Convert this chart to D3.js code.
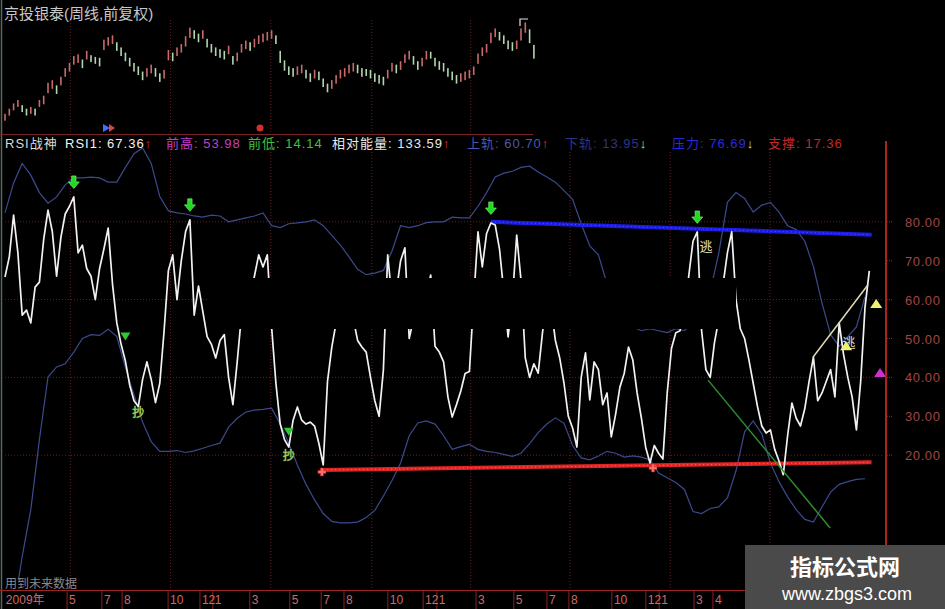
<!DOCTYPE html>
<html><head><meta charset="utf-8">
<script src="https://cdn.jsdelivr.net/npm/d3@7"></script>
<style>
html,body{margin:0;padding:0;background:#000;}
svg{display:block;}
text{font-family:"Liberation Sans","Noto Sans CJK SC",sans-serif;}
</style></head><body>
<svg id="c" width="945" height="609"></svg>
<script>
// ---------- DATA ----------
const title = "京投银泰(周线,前复权)";
const candleOpen = [4.20,4.50,4.80,5.00,5.10,4.90,4.60,4.90,5.00,5.15,5.80,6.05,6.25,6.25,6.75,7.05,7.45,7.55,7.75,7.75,8.00,7.90,7.85,8.30,8.55,8.65,8.75,8.45,8.15,7.85,7.55,7.35,7.05,6.75,6.95,7.25,6.95,6.65,7.70,8.15,7.95,8.15,8.50,9.00,9.45,9.25,8.95,8.95,8.65,8.45,8.35,8.25,8.05,7.95,7.65,8.15,8.35,8.75,8.45,8.65,8.75,8.85,8.95,9.15,8.25,7.70,7.35,7.25,6.85,6.95,7.15,6.95,6.65,7.05,6.65,6.35,6.05,6.35,6.65,6.75,6.95,7.05,7.45,7.25,7.20,7.15,6.95,6.85,6.75,6.65,7.05,7.45,7.15,7.55,7.75,7.95,7.65,7.35,7.75,8.20,7.85,7.65,7.55,7.25,7.05,6.85,6.45,6.55,6.65,6.85,7.50,7.95,8.15,8.70,9.05,9.35,9.15,8.85,8.75,8.35,8.85,9.30,9.50,8.60];
const candleClose = [4.60,4.90,5.20,5.40,4.70,4.50,5.00,4.50,5.40,5.65,6.40,6.55,5.75,6.75,7.25,7.55,7.95,8.05,7.25,8.25,7.60,7.50,7.35,8.90,9.05,9.15,8.25,7.95,7.65,7.35,7.05,6.85,6.55,7.25,7.45,6.75,6.45,7.15,8.30,7.65,8.45,8.65,9.10,9.60,8.95,8.75,9.45,8.45,8.15,7.95,7.85,7.75,8.55,7.45,8.15,8.65,8.85,8.25,8.95,9.15,9.25,9.35,9.45,8.65,7.55,7.10,6.85,6.75,7.35,7.45,6.65,6.45,7.15,6.55,6.15,5.85,6.55,6.85,7.15,7.25,7.45,7.55,6.95,6.75,6.80,6.65,6.45,6.35,6.25,7.15,7.55,6.95,7.65,8.05,8.25,7.45,7.15,7.85,8.25,7.80,7.35,7.15,7.05,6.75,6.55,6.35,6.95,7.05,7.15,7.35,8.10,8.45,8.65,9.30,9.55,8.85,8.65,8.35,8.25,8.85,9.55,9.90,8.70,7.80];

const rsi1 = [65.8,71,81.7,72,56,57.3,54,63.2,64.5,75.5,83,77.5,66,76,82,84,86.4,72,74,68,66,60,68,73,78.4,64,54,48.5,44.2,38,34,32.5,39.5,44,39.5,33.5,38.5,52,67.5,71.5,60,70,77.5,80.5,56,63.5,57,50.5,48.5,45,49.5,51,40,33,44,56,62,60,66,71.5,68.4,71.5,53,38.5,28,24,22.1,29,32.4,29,28,28.5,27.5,23,17.5,39,47.8,54,60,64,60,55,49.5,47.8,46.5,40,34,30,42,71.5,60,62,70,73.3,50,55,60,58,62,66.3,48,46.5,44,35,29.8,33,36.5,41,41.5,60,77.4,68.4,77,79.7,79.2,73,62,50.4,60,76.6,65,45,40,43.5,41.1,51.5,60,58,49.5,45,38.5,30,27,22.1,40,46.3,34.2,44,42,33,36,24.7,30.5,37.5,41,47.8,44.5,36,29.5,22,18,22.5,20.5,19,36,47.5,51.5,52,58,66,75,77.4,52,42,40,49,55,64,72,77.4,60,52.5,50,44.5,38.5,32.5,27.5,25.7,26.5,21.5,18.5,15,25,33.4,29.5,27.5,32,39,45.2,34,36,39,42,35,54,46,40,35,26.5,39,58,67.36];
// bands sampled every 2 weeks
const upperBand = [82.3,90,95,92,87.5,84.8,86.4,89.5,91.3,91.3,91.5,91.3,90.2,90.2,94,97.5,99,95,86.5,82.8,82.3,82,81.5,81.2,81.7,81.5,80,80.5,81,81.5,82.3,79,78.5,79.5,79.7,80,80.5,79,76.5,74,71,67.8,66.4,66.8,67.5,72.5,79,78.5,79,79.8,80,80,81.2,81,81,84,87.5,91.5,92.5,93,94,94.3,92.8,91.5,90.2,88,85.8,79.5,73.8,71.5,64,60,56,53,52,52.5,52,51.5,52.5,52,54,57,62,72,85,87.5,86,82.5,84.3,85,82.5,79,78,75,68.5,59.1,51,48,50.5,53,60.7];
const lowerBand = [null,-20,-6,6,24,40.1,42.7,43.5,46.5,50,51,50.8,52.4,50.5,42.5,35.5,28.5,23.5,21,21,21.2,20.7,21.1,21.8,22.5,23.1,27.2,29.5,31.1,31.6,31.8,32.1,28,23,17.5,12.5,8.5,5,3,2.6,2.6,2.8,4,5.8,9.5,13.5,18,25,28.3,28.8,28,25,21.5,22.2,22.8,21.5,21,20.7,20.2,19.7,20.5,23,25.8,28,29.6,28.2,22.5,19.3,18.8,19.8,21,20.5,19.5,19.8,19.5,18.8,15.4,14.2,13,11.2,5.5,5,6.3,6.7,9,16,26,28.8,25.5,18,13.2,9.3,6,3.5,2.8,6.7,10.5,12.5,13.2,13.8,13.95];

// trend lines: [week, value] endpoints
const resistLine = [[113, 80.0], [201.5, 76.69]];
const supportLine = [[74, 16.2], [201.5, 18.2]];
const fallLine = [[163.5, 39.3], [191.9, 1.3]];
const escapeLine = [[187.9, 45.2], [200.7, 63.8]];

// signals
const topArrows = [[16, 86.4], [43, 80.5], [113, 79.7], [161, 77.4]];
const buyTriangles = [[28, 50.5], [66, 26]];
const buyLabels = [[31, 31], [66, 20]];
const escapeLabels = [[163, 73.8], [196.3, 49.1]];
const lowMarks = [[73.7, 15.7], [150.7, 16.7]];
const yellowTriangles = [[202.6, 58.9], [195.6, 48]];
const magentaTriangles = [[203.5, 41.1]];

const gridWeeks = [15.2, 38.5, 61.8, 85.3, 108.3, 131.4, 154.7, 177.9];
const gridValues = [80, 60, 40, 20];
const axisValues = [80, 70, 60, 50, 40, 30, 20];
const monthWeeks = [0.2, 14.9, 23, 27.7, 38.4, 45.8, 48.8, 57.4, 66.7, 74, 79.3, 89.5, 97.7, 100.9, 110, 118.8, 126.5, 131.6, 141.6, 149.5, 152.6, 160.7, 165.1];
const monthLabels = ["2009年","5","7","8","10","12","1","3","5","7","8","10","12","1","3","5","7","8","10","12","1","3","4"];

const headerLabels = ["RSI战神", "RSI1", "前高", "前低", "相对能量", "上轨", "下轨", "压力", "支撑"];
const headerValues = [null, 67.36, 53.98, 14.14, 133.59, 60.70, 13.95, 76.69, 17.36];
const headerArrows = ["", "↑", "", "", "↑", "↑", "↓", "↓", ""];

// ---------- LAYOUT / STYLE ----------
const headerX = [5, 65, 166, 248, 332, 467, 565, 672, 768];
const headerColors = ["#d8d8d8","#f2f2f2","#c040c8","#40c040","#e8e8e8","#4a58b0","#2c3488","#2a2ae0","#c02828"];
const arrowColors = {"↑":"#e03030","↓":"#c8e070"};

const svg = d3.select("#c");
svg.append("rect").attr("width",945).attr("height",609).attr("fill","#000");

const x = d3.scaleLinear().domain([0, 201]).range([5, 869.3]);
const yR = d3.scaleLinear().domain([0, 100]).range([533, 144]);
const yP = d3.scaleLinear().domain([3, 10]).range([141.4, 20.7]);

const defs = svg.append("defs");
defs.append("clipPath").attr("id","rclip").append("rect").attr("x",3).attr("y",140).attr("width",882).attr("height",440);
defs.append("clipPath").attr("id","pclip").append("rect").attr("x",3).attr("y",16).attr("width",532).attr("height",118);

// left border
svg.append("line").attr("x1",1.5).attr("x2",1.5).attr("y1",0).attr("y2",609).attr("stroke","#5a6a5a").attr("stroke-width",1.5);

// ---------- TOP PANEL ----------
const topG = svg.append("g");
topG.append("text").attr("x",4).attr("y",19).attr("fill","#c8c8c8").attr("font-size",15).text(title);
topG.selectAll("line.tg").data(gridWeeks.filter(w => x(w) < 533)).join("line")
  .attr("x1",d=>x(d)).attr("x2",d=>x(d)).attr("y1",20).attr("y2",133)
  .attr("stroke","#6a1c1c").attr("stroke-dasharray","1,2");
topG.append("line").attr("x1",0).attr("x2",533).attr("y1",134.5).attr("y2",134.5).attr("stroke","#7a2626").attr("stroke-width",1);
topG.append("g").attr("clip-path","url(#pclip)").selectAll("rect").data(candleOpen).join("rect")
  .attr("x",(d,i)=>x(i)-0.8).attr("width",1.6)
  .attr("y",(d,i)=>yP(Math.max(d,candleClose[i])))
  .attr("height",(d,i)=>Math.abs(yP(d)-yP(candleClose[i])))
  .attr("fill",(d,i)=> candleClose[i] >= d ? "#c86a6a" : "#b0d6b0");
// small icons under the candles
topG.append("path").attr("d","M103,124 L110,128 L103,132 Z").attr("fill","#4a6cff");
topG.append("path").attr("d","M109,124 L115,128 L109,132 Z").attr("fill","#e04040");
topG.append("circle").attr("cx",260).attr("cy",128).attr("r",3.5).attr("fill","#d03030");
topG.append("path").attr("d","M520,26 L520,19 L528,19").attr("fill","none").attr("stroke","#e0e0e0").attr("stroke-width",1.2);

// ---------- RSI PANEL ----------
const hdr = svg.append("g").attr("font-size",13).attr("letter-spacing","1px");
headerLabels.forEach((lab,i)=>{
  const t = hdr.append("text").attr("x",headerX[i]).attr("y",148).attr("fill",headerColors[i]);
  if (headerValues[i] === null) { t.text(lab); return; }
  t.append("tspan").text(lab + ": " + headerValues[i].toFixed(2));
  if (headerArrows[i]) t.append("tspan").attr("fill",arrowColors[headerArrows[i]]).text(headerArrows[i]);
});

const grid = svg.append("g");
grid.selectAll("line.v").data(gridWeeks).join("line")
  .attr("x1",d=>x(d)).attr("x2",d=>x(d)).attr("y1",152).attr("y2",590)
  .attr("stroke","#6a1c1c").attr("stroke-dasharray","1,2");
grid.selectAll("line.h").data(gridValues).join("line")
  .attr("x1",5).attr("x2",884).attr("y1",d=>yR(d)).attr("y2",d=>yR(d))
  .attr("stroke","#6a1c1c").attr("stroke-dasharray","1,2");

const plot = svg.append("g").attr("clip-path","url(#rclip)");
const bandLine = d3.line().defined(d=>d!==null).x((d,j)=>x(j*2)).y(d=>yR(d));
plot.append("path").attr("d",bandLine(upperBand)).attr("fill","none").attr("stroke","#3c4a8c").attr("stroke-width",1.2);
plot.append("path").attr("d",bandLine(lowerBand)).attr("fill","none").attr("stroke","#3c4a8c").attr("stroke-width",1.2);

const segLine = d3.line().x(d=>x(d[0])).y(d=>yR(d[1]));
plot.append("path").attr("d",segLine(supportLine)).attr("stroke","#e02424").attr("stroke-width",4).attr("fill","none");
plot.append("path").attr("d",segLine(supportLine)).attr("stroke","#ff7070").attr("stroke-width",1).attr("stroke-dasharray","1,3").attr("fill","none");
plot.append("path").attr("d",segLine(resistLine)).attr("stroke","#1c1ce6").attr("stroke-width",4).attr("fill","none");
plot.append("path").attr("d",segLine(resistLine)).attr("stroke","#4a5aff").attr("stroke-width",1).attr("stroke-dasharray","1,3").attr("fill","none");

const rsiLine = d3.line().x((d,i)=>x(i)).y(d=>yR(d));
plot.append("path").attr("d",rsiLine(rsi1)).attr("fill","none").attr("stroke","#f2f2f2").attr("stroke-width",1.7).attr("stroke-linejoin","round");

plot.append("path").attr("d",segLine(fallLine)).attr("stroke","#2e8e2e").attr("stroke-width",1.5).attr("fill","none");
plot.append("path").attr("d",segLine(escapeLine)).attr("stroke","#e2dab4").attr("stroke-width",1.5).attr("fill","none");

// masked band across the middle (as in the picture)
svg.append("rect").attr("x",208).attr("y",278).attr("width",528).attr("height",51).attr("fill","#000");

// markers
const mk = svg.append("g");
mk.selectAll("path.arrow").data(topArrows).join("path")
  .attr("transform",d=>`translate(${x(d[0])},${yR(d[1])-14})`)
  .attr("d","M-2.2,-7 L2.2,-7 L2.2,-1 L5.5,-1 L0,5.5 L-5.5,-1 L-2.2,-1 Z")
  .attr("fill","#22d822").attr("stroke","#7cff7c").attr("stroke-width",0.6);
mk.selectAll("path.buy").data(buyTriangles).join("path")
  .attr("transform",d=>`translate(${x(d[0])},${yR(d[1])})`)
  .attr("d","M-5,-4 L5,-4 L0,4 Z").attr("fill","#34c434");
mk.selectAll("text.buy").data(buyLabels).join("text")
  .attr("x",d=>x(d[0])).attr("y",d=>yR(d[1])+5).attr("text-anchor","middle")
  .attr("font-size",12).attr("fill","#c8c060").attr("stroke","#3a9a3a").attr("stroke-width",0.8)
  .attr("paint-order","stroke").text("抄");
mk.selectAll("path.low").data(lowMarks).join("path")
  .attr("transform",d=>`translate(${x(d[0])},${yR(d[1])})`)
  .attr("d","M-1.5,-4 L1.5,-4 L1.5,-1.5 L4,-1.5 L4,1.5 L1.5,1.5 L1.5,4 L-1.5,4 L-1.5,1.5 L-4,1.5 L-4,-1.5 L-1.5,-1.5 Z")
  .attr("fill","#ff6a6a").attr("stroke","#c02020").attr("stroke-width",0.5);
mk.selectAll("text.esc").data(escapeLabels).join("text")
  .attr("x",d=>x(d[0])).attr("y",d=>yR(d[1])+5).attr("text-anchor","middle")
  .attr("font-size",13).attr("fill","#e8e0c4").text("逃");
mk.selectAll("path.yt").data(yellowTriangles).join("path")
  .attr("transform",d=>`translate(${x(d[0])},${yR(d[1])})`)
  .attr("d","M0,-5 L6,4 L-6,4 Z").attr("fill","#f0f070");
mk.selectAll("path.mt").data(magentaTriangles).join("path")
  .attr("transform",d=>`translate(${x(d[0])},${yR(d[1])})`)
  .attr("d","M0,-5 L6,4 L-6,4 Z").attr("fill","#d030d0");

// right axis
svg.append("line").attr("x1",886).attr("x2",886).attr("y1",141).attr("y2",590).attr("stroke","#b02222").attr("stroke-width",2);
const ax = svg.append("g");
ax.selectAll("line").data(axisValues).join("line")
  .attr("x1",887).attr("x2",893).attr("y1",d=>yR(d)).attr("y2",d=>yR(d))
  .attr("stroke","#8a2a2a").attr("stroke-dasharray","1,1");
ax.selectAll("text").data(axisValues).join("text")
  .attr("x",905).attr("y",d=>yR(d)+5).attr("font-size",13).attr("letter-spacing","0.6px")
  .attr("fill","#a04444").text(d=>d.toFixed(2));

// bottom axis
svg.append("text").attr("x",5).attr("y",588).attr("font-size",12).attr("fill","#8a8a8a").text("用到未来数据");
svg.append("line").attr("x1",0).attr("x2",945).attr("y1",590.5).attr("y2",590.5).attr("stroke","#a02424");
const bx = svg.append("g");
bx.selectAll("line").data(monthWeeks.slice(1)).join("line")
  .attr("x1",d=>x(d)-2).attr("x2",d=>x(d)-2).attr("y1",591).attr("y2",609).attr("stroke","#8a2222");
bx.selectAll("text").data(monthLabels).join("text")
  .attr("x",(d,i)=>x(monthWeeks[i])).attr("y",604).attr("font-size",12).attr("fill","#d06a6a").text(d=>d);

// watermark
svg.append("rect").attr("x",745).attr("y",545).attr("width",200).attr("height",64).attr("fill","#4a4a4a");
svg.append("text").attr("x",845).attr("y",575).attr("text-anchor","middle").attr("font-size",22).attr("font-weight","bold").attr("fill","#fff").text("指标公式网");
svg.append("text").attr("x",847).attr("y",600).attr("text-anchor","middle").attr("font-size",18).attr("fill","#fff").text("www.zbgs3.com");
</script>
</body></html>
